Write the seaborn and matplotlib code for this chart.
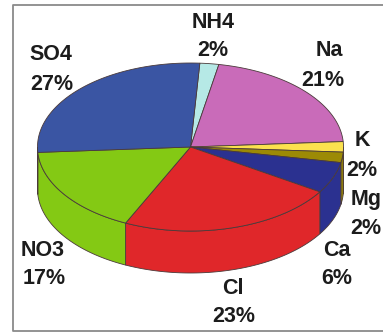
import numpy as np
import matplotlib
matplotlib.use("Agg")
import matplotlib.pyplot as plt
import seaborn as sns

# Ion shares of the sample, clockwise from the top of the pie
ions = ["NH4", "Na", "K", "Mg", "Ca", "Cl", "NO3", "SO4"]
shares = [2, 21, 2, 2, 6, 23, 17, 27]
colours = ["#b6e9e6", "#c96bb9", "#fbe14e", "#9c8a05", "#2b3190", "#e0272a", "#84c914", "#3a55a3"]

sns.set_theme(style="white")
plt.rcParams["font.family"] = ["Liberation Sans", "DejaVu Sans"]

# Label anchors for the name line and the percentage line
name_x = [213, 329, 362, 366, 337, 233, 43, 51]
name_y = [22, 51, 141, 200, 250, 288, 250, 55]
share_x = [213, 323, 362, 366, 337, 234, 44, 52]
share_y = [50, 80, 170, 229, 279, 317, 279, 85]

CX, CY, RX, RY, DEPTH = 190.5, 147.0, 153.0, 84.0, 42.0
START = 86.5
EDGE = "#4a3a3a"


def rim(a0, a1, dy=0.0):
    t = np.radians(np.linspace(a0, a1, max(int(abs(a1 - a0)), 2) + 1))
    return CX + RX * np.cos(t), CY - RY * np.sin(t) + dy


fig = plt.figure(figsize=(3.83, 3.33), dpi=100)
ax = fig.add_axes([0, 0, 1, 1])
ax.set_xlim(0, 383)
ax.set_ylim(333, 0)
ax.axis("off")

# Frame, open on the right-hand side
ax.plot([383, 13, 13, 383], [5, 5, 331, 331], color="#8a8a8a", lw=1.3, solid_capstyle="butt")

angles = START - 3.6 * np.cumsum([0] + shares)
spans = list(zip(angles[:-1], angles[1:]))

# Outer wall: only the lower half of the rim faces the viewer
for i, (a0, a1) in enumerate(spans):
    hi, lo = min(a0, 0), max(a1, -180)
    if hi <= lo:
        continue
    x, y = rim(lo, hi)
    xs = np.concatenate([x, x[::-1]])
    ys = np.concatenate([y, y[::-1] + DEPTH])
    ax.fill(xs, ys, facecolor=colours[i], edgecolor=EDGE, lw=0.6, zorder=2)

# Top face
for i, (a0, a1) in enumerate(spans):
    x, y = rim(a0, a1)
    ax.fill(np.r_[CX, x], np.r_[CY, y], facecolor=colours[i], edgecolor=EDGE, lw=0.6, zorder=3)

for i, ion in enumerate(ions):
    style = dict(ha="center", va="center", fontsize=15.5, fontweight="bold", color="#1c1c1c", zorder=4)
    ax.text(name_x[i], name_y[i], ion, **style)
    ax.text(share_x[i], share_y[i], f"{shares[i]}%", **style)

fig.savefig("out.png", dpi=100)
